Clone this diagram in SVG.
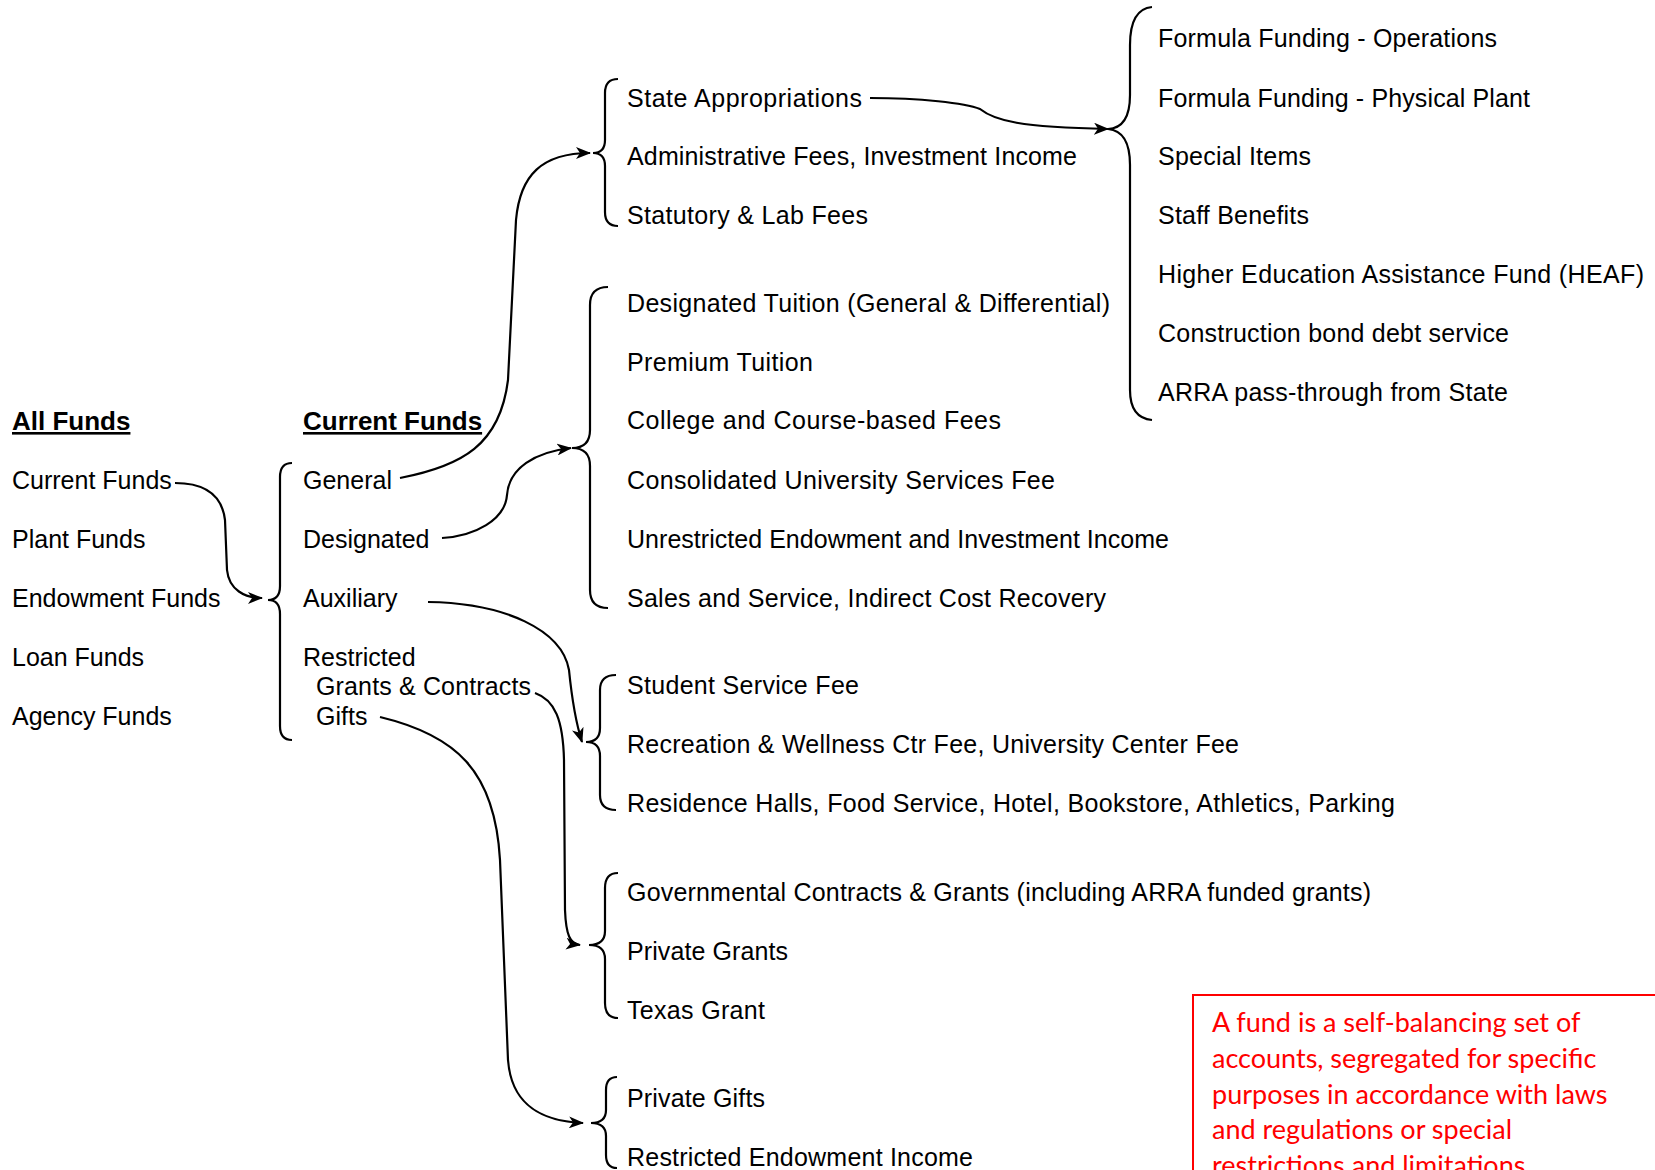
<svg xmlns="http://www.w3.org/2000/svg" width="1655" height="1170" viewBox="0 0 1655 1170">
<style>
.t{font-family:"Liberation Sans",Arial,sans-serif;font-size:25px;fill:#000}
.h{font-family:"Liberation Sans",Arial,sans-serif;font-size:26px;font-weight:bold;fill:#000;text-decoration:underline}
.br{fill:none;stroke:#000;stroke-width:2.2}
.cn{fill:none;stroke:#000;stroke-width:2.2;marker-end:url(#ah)}
.note{font-family:Lato,"Carlito","Liberation Sans",sans-serif;font-size:27px;fill:#ff0000}
</style>
<defs>
<marker id="ah" markerUnits="userSpaceOnUse" markerWidth="16" markerHeight="12" refX="14" refY="6" orient="auto">
<path d="M0,0 L15,6 L0,12 L4,6 Z" fill="#000"/>
</marker>
</defs>
<rect width="1655" height="1170" fill="#fff"/>

<g id="all-funds">
<text class="h" x="12" y="430">All Funds</text>
<text class="t" x="12" y="489">Current Funds</text>
<text class="t" x="12" y="548">Plant Funds</text>
<text class="t" x="12" y="607">Endowment Funds</text>
<text class="t" x="12" y="666">Loan Funds</text>
<text class="t" x="12" y="725">Agency Funds</text>
</g>

<g id="current-funds">
<path class="br" d="M292,463 Q280,463 280,477 L280,586 Q280,600 268,600 Q280,600 280,614 L280,726 Q280,740 292,740"/>
<text class="h" x="303" y="430">Current Funds</text>
<text class="t" x="303" y="489">General</text>
<text class="t" x="303" y="548">Designated</text>
<text class="t" x="303" y="607">Auxiliary</text>
<text class="t" x="303" y="666">Restricted</text>
<text class="t" x="316" y="695" textLength="215">Grants &amp; Contracts</text>
<text class="t" x="316" y="725">Gifts</text>
</g>

<g id="general-sources">
<path class="br" d="M618,79 Q605,79 605,93 L605,140 Q605,153 593,153 Q605,153 605,166 L605,212 Q605,226 618,226"/>
<text class="t" x="627" y="107" textLength="235">State Appropriations</text>
<text class="t" x="627" y="165" textLength="450">Administrative Fees, Investment Income</text>
<text class="t" x="627" y="224" textLength="241">Statutory &amp; Lab Fees</text>
</g>

<g id="designated-sources">
<path class="br" d="M608,287 Q590,287 590,305 L590,430 Q590,448 572,448 Q590,448 590,466 L590,590 Q590,608 608,608"/>
<text class="t" x="627" y="312" textLength="483">Designated Tuition (General &amp; Differential)</text>
<text class="t" x="627" y="371" textLength="186">Premium Tuition</text>
<text class="t" x="627" y="429" textLength="374">College and Course-based Fees</text>
<text class="t" x="627" y="489" textLength="428">Consolidated University Services Fee</text>
<text class="t" x="627" y="548" textLength="542">Unrestricted Endowment and Investment Income</text>
<text class="t" x="627" y="607" textLength="479">Sales and Service, Indirect Cost Recovery</text>
</g>

<g id="auxiliary-sources">
<path class="br" d="M616,675 Q600,675 600,690 L600,728 Q600,742 586,742 Q600,742 600,756 L600,795 Q600,810 616,810"/>
<text class="t" x="627" y="694" textLength="232">Student Service Fee</text>
<text class="t" x="627" y="753" textLength="612">Recreation &amp; Wellness Ctr Fee, University Center Fee</text>
<text class="t" x="627" y="812" textLength="768">Residence Halls, Food Service, Hotel, Bookstore, Athletics, Parking</text>
</g>

<g id="grants-sources">
<path class="br" d="M618,873 Q605,873 605,888 L605,931 Q605,945 589,945 Q605,945 605,959 L605,1003 Q605,1018 618,1018"/>
<text class="t" x="627" y="901" textLength="744">Governmental Contracts &amp; Grants (including ARRA funded grants)</text>
<text class="t" x="627" y="960" textLength="161">Private Grants</text>
<text class="t" x="627" y="1019" textLength="138">Texas Grant</text>
</g>

<g id="gifts-sources">
<path class="br" d="M617,1077 Q606,1077 606,1090 L606,1110 Q606,1123 591,1123 Q606,1123 606,1136 L606,1155 Q606,1168 617,1168"/>
<text class="t" x="627" y="1107" textLength="138">Private Gifts</text>
<text class="t" x="627" y="1166" textLength="346">Restricted Endowment Income</text>
</g>

<g id="state-appropriations">
<path class="br" d="M1152,7 Q1130,9 1130,45 L1130,95 Q1130,128 1108,129 Q1130,131 1130,165 L1130,390 Q1130,418 1152,420"/>
<text class="t" x="1158" y="47" textLength="339">Formula Funding - Operations</text>
<text class="t" x="1158" y="107" textLength="372">Formula Funding - Physical Plant</text>
<text class="t" x="1158" y="165" textLength="153">Special Items</text>
<text class="t" x="1158" y="224" textLength="151">Staff Benefits</text>
<text class="t" x="1158" y="283" textLength="486">Higher Education Assistance Fund (HEAF)</text>
<text class="t" x="1158" y="342" textLength="351">Construction bond debt service</text>
<text class="t" x="1158" y="401" textLength="350">ARRA pass-through from State</text>
</g>

<g id="note">
<rect x="1193" y="995" width="480" height="200" fill="none" stroke="#ff0000" stroke-width="2"/>
<text class="note" x="1212" y="1032">A fund is a self-balancing set of</text>
<text class="note" x="1212" y="1068">accounts, segregated for specific</text>
<text class="note" x="1212" y="1104">purposes in accordance with laws</text>
<text class="note" x="1212" y="1139">and regulations or special</text>
<text class="note" x="1212" y="1175">restrictions and limitations.</text>
</g>

<g id="connectors">
<path class="cn" d="M175,483 C205,483 222,495 225,520 L227,570 C229,590 245,598 262,598"/>
<path class="cn" d="M400,478 C462,466 500,445 508,380 L516,220 C520,175 542,153 590,153"/>
<path class="cn" d="M442,538 C475,536 505,520 507,495 C509,468 535,452 571,448"/>
<path class="cn" d="M428,602 C505,603 562,630 569,670 C572,700 575,720 582,742"/>
<path class="cn" d="M535,693 C555,700 563,720 564,760 L565,910 C566,935 570,944 580,945"/>
<path class="cn" d="M380,717 C455,735 495,770 500,860 L508,1060 C511,1100 535,1121 583,1123"/>
<path class="cn" d="M870,98 C920,98 965,103 980,109 C995,121 1020,127 1108,129"/>
</g>
</svg>
